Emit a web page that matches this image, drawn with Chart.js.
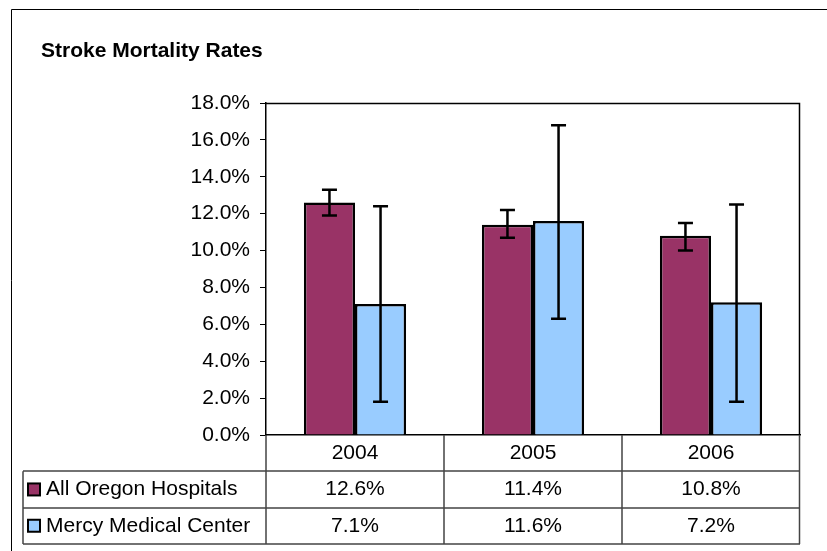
<!DOCTYPE html>
<html>
<head>
<meta charset="utf-8">
<script src="https://cdn.jsdelivr.net/npm/chart.js@4.4.0/dist/chart.umd.min.js"></script>
<style>
    html, body { margin: 0; padding: 0; background: #fff; }
    #wrap { width: 827px; height: 551px; position: relative; }
</style>
</head>
<body>
<div id="wrap"><canvas id="strokeChart" width="827" height="551"></canvas></div>
<script>
// datos
const years = ['2004', '2005', '2006'];
const oregonRates = [12.6, 11.4, 10.8];
const mercyRates = [7.1, 11.6, 7.2];
const oregonLow = [11.9, 10.7, 10.0];
const oregonHigh = [13.3, 12.2, 11.5];
const mercyLow = [1.8, 6.3, 1.8];
const mercyHigh = [12.4, 16.8, 12.5];
const yTicks = [0, 2, 4, 6, 8, 10, 12, 14, 16, 18];

const FONT = "Arial, 'Liberation Sans', sans-serif";

// barras de error
const errorBarsPlugin = {
    id: 'errorBars',
    afterDatasetsDraw(chart) {
        const ctx = chart.ctx;
        const y = chart.scales.y;
        ctx.save();
        ctx.strokeStyle = '#000';
        ctx.lineWidth = 2.5;
        chart.data.datasets.forEach((ds, di) => {
            const meta = chart.getDatasetMeta(di);
            meta.data.forEach((bar, i) => {
                const x = bar.x;
                const top = y.getPixelForValue(ds.high[i]);
                const bot = y.getPixelForValue(ds.low[i]);
                ctx.beginPath();
                ctx.moveTo(x, top); ctx.lineTo(x, bot);
                ctx.moveTo(x - 7.5, top); ctx.lineTo(x + 7.5, top);
                ctx.moveTo(x - 7.5, bot); ctx.lineTo(x + 7.5, bot);
                ctx.stroke();
            });
        });
        ctx.restore();
    }
};

// tabla de datos + marcos
const dataTablePlugin = {
    id: 'dataTable',
    afterDraw(chart) {
        const ctx = chart.ctx;
        const area = chart.chartArea;
        const xs = chart.scales.x;
        const half = (xs.getPixelForValue(1) - xs.getPixelForValue(0)) / 2;
        const rowTop = area.bottom;
        const rowH = 36.3;
        const tableLeft = 23;

        ctx.save();
        // marco exterior del grafico
        ctx.strokeStyle = '#000';
        ctx.lineWidth = 1;
        ctx.beginPath();
        ctx.moveTo(11.5, 551); ctx.lineTo(11.5, 9.5); ctx.lineTo(827, 9.5);
        ctx.stroke();

        // borde del area de trazado (arriba y derecha)
        ctx.lineWidth = 1.5;
        ctx.beginPath();
        ctx.moveTo(area.left, area.top + 0.5);
        ctx.lineTo(area.right - 0.5, area.top + 0.5);
        ctx.lineTo(area.right - 0.5, area.bottom);
        ctx.stroke();

        // titulo
        ctx.fillStyle = '#000';
        ctx.font = 'bold 21px ' + FONT;
        ctx.textAlign = 'left';
        ctx.textBaseline = 'middle';
        ctx.fillText('Stroke Mortality Rates', 41, 51);

        // lineas de la tabla
        ctx.strokeStyle = '#444';
        ctx.lineWidth = 1.5;
        ctx.beginPath();
        for (let r = 1; r <= 3; r++) {
            const yy = Math.round(rowTop + r * rowH);
            ctx.moveTo(tableLeft, yy); ctx.lineTo(area.right, yy);
        }
        years.forEach((yr, i) => {
            const xl = Math.round(xs.getPixelForValue(i) - half);
            ctx.moveTo(xl, rowTop); ctx.lineTo(xl, rowTop + 3 * rowH);
        });
        const xr = Math.round(area.right) - 0.5;
        ctx.moveTo(xr, rowTop); ctx.lineTo(xr, rowTop + 3 * rowH);
        ctx.moveTo(tableLeft, rowTop + rowH); ctx.lineTo(tableLeft, rowTop + 3 * rowH);
        ctx.stroke();

        // textos de la tabla
        ctx.fillStyle = '#000';
        ctx.font = '21px ' + FONT;
        ctx.textAlign = 'center';
        years.forEach((yr, i) => {
            const cx = xs.getPixelForValue(i);
            ctx.fillText(yr, cx, rowTop + rowH * 0.5);
            chart.data.datasets.forEach((ds, di) => {
                ctx.fillText(ds.data[i].toFixed(1) + '%', cx, rowTop + rowH * (di + 1.5));
            });
        });

        // leyenda dentro de la tabla
        chart.data.datasets.forEach((ds, di) => {
            const cy = rowTop + rowH * (di + 1.5);
            ctx.fillStyle = ds.backgroundColor;
            ctx.fillRect(28, cy - 6, 12, 12);
            ctx.strokeStyle = '#000';
            ctx.lineWidth = 2;
            ctx.strokeRect(28, cy - 6, 12, 12);
            ctx.fillStyle = '#000';
            ctx.textAlign = 'left';
            ctx.fillText(ds.label, 46, cy);
        });
        ctx.restore();
    }
};

new Chart(document.getElementById('strokeChart'), {
    type: 'bar',
    data: {
        labels: years,
        datasets: [{
            label: 'All Oregon Hospitals',
            data: oregonRates,
            low: oregonLow,
            high: oregonHigh,
            backgroundColor: '#993366',
            borderColor: '#000',
            borderWidth: 2.5
        }, {
            label: 'Mercy Medical Center',
            data: mercyRates,
            low: mercyLow,
            high: mercyHigh,
            backgroundColor: '#99CCFF',
            borderColor: '#000',
            borderWidth: 2.5
        }]
    },
    options: {
        responsive: false,
        animation: false,
        layout: {
            padding: { left: 0, right: 27, top: 103, bottom: 116 }
        },
        plugins: {
            legend: { display: false },
            tooltip: { enabled: false }
        },
        datasets: {
            bar: {
                categoryPercentage: 0.574,
                barPercentage: 1
            }
        },
        scales: {
            x: {
                ticks: { display: false },
                grid: { display: false },
                border: { display: true, color: '#000', width: 1.5 },
                afterFit: (s) => { s.height = 0; }
            },
            y: {
                min: 0,
                max: 18,
                afterBuildTicks: (s) => { s.ticks = yTicks.map(v => ({ value: v })); },
                ticks: {
                    padding: 10,
                    color: '#000',
                    font: { family: FONT, size: 21 },
                    callback: (v) => v.toFixed(1) + '%'
                },
                grid: {
                    drawOnChartArea: false,
                    drawTicks: true,
                    tickLength: 6,
                    color: '#000'
                },
                border: { display: true, color: '#000', width: 1.5 },
                afterFit: (s) => { s.width = 266; }
            }
        }
    },
    plugins: [errorBarsPlugin, dataTablePlugin]
});
</script>
</body>
</html>
